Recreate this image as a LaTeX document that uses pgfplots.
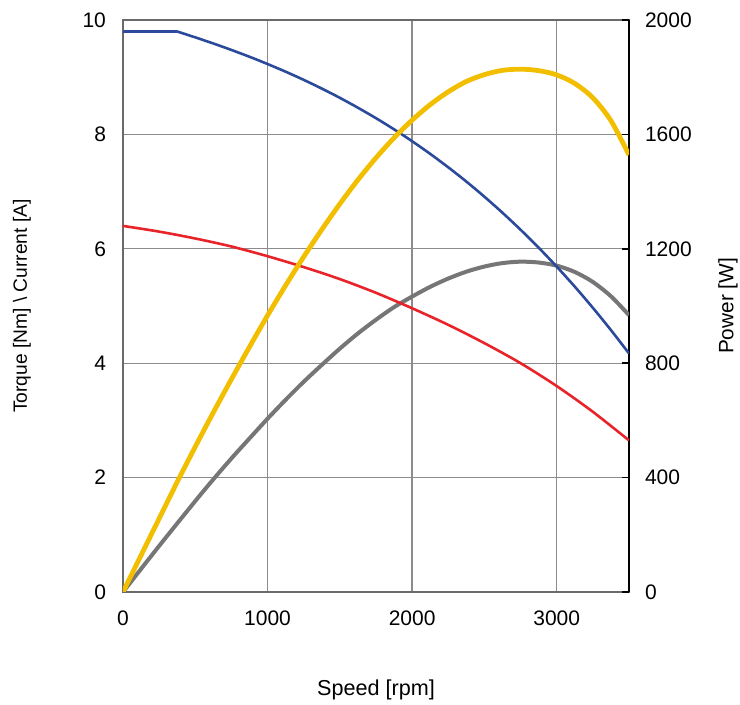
\documentclass[border=0pt]{standalone}
\usepackage{pgfplots}
\pgfplotsset{compat=1.18}
\usepackage{fontspec}
\setmainfont{Liberation Sans}
\definecolor{cblue}{HTML}{2B4A9B}
\definecolor{cred}{HTML}{E8232A}
\definecolor{cyellow}{HTML}{F2BE00}
\definecolor{cgray}{HTML}{767676}
\definecolor{gridgray}{HTML}{8C8C8C}
\definecolor{framegray}{HTML}{6A6A6A}
\begin{document}
\begin{tikzpicture}
\pgfplotsset{
  base/.style={scale only axis, width=253pt, height=286pt, xmin=0, xmax=3500,
    /pgf/number format/assume math mode=true, /pgf/number format/1000 sep={},
    tick label style={font=\fontsize{10.5}{12}\selectfont},
    xtick={0,1000,2000,3000}},
}
% grid, frame, left axis, x axis
\begin{axis}[base, name=ax, ymin=0, ymax=10, ytick={0,2,...,10},
  grid=major, major grid style={color=gridgray, line width=0.65pt},
  axis line style={draw=framegray, line width=0.8pt},
  major tick length=0pt,
  yticklabel style={xshift=-5pt},
  xticklabel style={yshift=-5.7pt},
  xlabel={Speed [rpm]},
  xlabel style={at={([yshift=-49pt]rel axis cs:0.5,0)}, anchor=center, font=\fontsize{10.8}{13}\selectfont},
  ylabel={Torque [Nm] \textbackslash{} Current [A]},
  ylabel style={at={([xshift=-50.5pt]rel axis cs:0,0.5)}, anchor=center, font=\fontsize{9.6}{12}\selectfont},
]
\end{axis}
% right axis, gray power
\begin{axis}[base, axis y line*=right, axis x line=none, ymin=0, ymax=2000, ytick={0,400,...,2000},
  axis line style={draw=black, line width=1pt},
  tick align=inside, major tick length=3.5pt, ytick style={draw=black, line width=0.8pt},
  yticklabel style={xshift=4.5pt},
  ylabel={Power [W]},
  ylabel style={at={([xshift=49.5pt]rel axis cs:1,0.5)}, anchor=center, font=\fontsize{10.4}{12}\selectfont},
]
\addplot[cgray, line width=2pt, smooth] coordinates {
(0,0) (250,161) (500,318) (625,394) (750,467) (875,537) (1000,606) (1125,672) (1250,735)
(1375,794) (1500,851) (1625,904) (1750,952) (1875,996) (2000,1033) (2125,1067) (2250,1096)
(2375,1120) (2500,1138) (2625,1150) (2750,1155) (2875,1152) (3000,1141) (3125,1119)
(3250,1084) (3375,1034) (3500,968)};
\end{axis}
% left: current and torque
\begin{axis}[base, hide axis, ymin=0, ymax=10]
\addplot[cred, line width=1.3pt, smooth] coordinates {
(0,6.40) (250,6.30) (500,6.18) (750,6.04) (1000,5.87) (1250,5.68) (1500,5.47) (1750,5.23)
(2000,4.96) (2250,4.67) (2500,4.35) (2750,4.00) (3000,3.60) (3250,3.15) (3500,2.65)};
\addplot[cblue, line width=1.3pt] coordinates {(0,9.80) (373,9.80)};
\addplot[cblue, line width=1.3pt, smooth] coordinates {
(373,9.800) (500,9.696) (625,9.589) (750,9.476) (875,9.357) (1000,9.230) (1125,9.096)
(1250,8.953) (1375,8.801) (1500,8.639) (1625,8.466) (1750,8.283) (1875,8.088) (2000,7.880)
(2125,7.659) (2250,7.424) (2375,7.175) (2500,6.910) (2625,6.630) (2750,6.333) (2875,6.020)
(3000,5.688) (3125,5.338) (3250,4.968) (3375,4.579) (3500,4.170)};
\end{axis}
% yellow power
\begin{axis}[base, hide axis, ymin=0, ymax=2000]
\addplot[cyellow, line width=2.4pt] coordinates {(0,0) (373,383)};
\addplot[cyellow, line width=2.4pt, smooth] coordinates {
(373,383) (500,508) (625,628) (750,744) (875,857) (1000,967) (1125,1072) (1250,1172)
(1375,1267) (1500,1357) (1625,1441) (1750,1518) (1875,1588) (2000,1650) (2125,1704)
(2250,1749) (2375,1785) (2500,1809) (2625,1824) (2750,1828) (2875,1823) (3000,1808)
(3125,1778) (3250,1728) (3375,1648) (3500,1528)};
\end{axis}
\pgfresetboundingbox
\path ([shift={(-61.5pt,-56.5pt)}]ax.south west) rectangle ([shift={(55.5pt,10pt)}]ax.north east);
\end{tikzpicture}
\end{document}
